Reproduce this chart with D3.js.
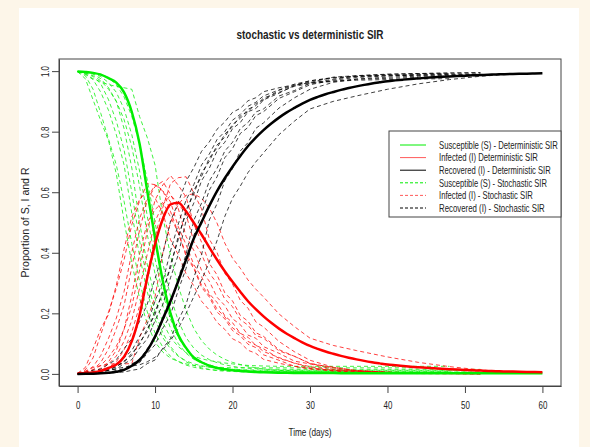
<!DOCTYPE html>
<html>
<head>
<meta charset="utf-8">
<script src="https://cdn.jsdelivr.net/npm/d3@7"></script>
<style>
  body { margin: 0; background: #fdf6e9; }
  svg { display: block; }
  text { font-family: "Liberation Sans", Arial, sans-serif; fill: #222; }
</style>
</head>
<body>
<div id="chart"></div>
<script>
// deterministic SIR, one value per day (0..60)
const days = d3.range(0, 61);
const detS = [0.999, 0.9972, 0.9942, 0.9883, 0.9768, 0.962, 0.93, 0.865, 0.76, 0.603,
  0.448, 0.307, 0.199, 0.128, 0.086, 0.054, 0.0384, 0.0272, 0.0193, 0.015,
  0.0116, 0.0092, 0.0075, 0.0063, 0.0053, 0.0046, 0.0041, 0.0036, 0.0033, 0.003,
  0.0028, 0.0027, 0.0026, 0.0026, 0.0025, 0.0025, 0.0024, 0.0024, 0.0023, 0.0023,
  0.0023, 0.0022, 0.0022, 0.0022, 0.0022, 0.0022, 0.0021, 0.0021, 0.0021, 0.0021,
  0.0021, 0.0021, 0.0021, 0.0021, 0.002, 0.002, 0.002, 0.002, 0.002, 0.002, 0.002];
const detI = [0.001, 0.0026, 0.005, 0.0099, 0.0195, 0.0311, 0.0568, 0.1082, 0.1941, 0.3194,
  0.4286, 0.5115, 0.56, 0.565, 0.5368, 0.499, 0.4604, 0.418, 0.377, 0.339,
  0.304, 0.2711, 0.2399, 0.2136, 0.1898, 0.1686, 0.1495, 0.1327, 0.1181, 0.1042,
  0.0922, 0.0826, 0.074, 0.0665, 0.0595, 0.0535, 0.048, 0.043, 0.0386, 0.0347,
  0.031, 0.0284, 0.026, 0.0238, 0.0218, 0.02, 0.0183, 0.0168, 0.0154, 0.0141,
  0.0129, 0.0118, 0.0108, 0.0099, 0.0091, 0.0083, 0.0076, 0.007, 0.0064, 0.0059, 0.0054];
const detR = [0, 0.0002, 0.0008, 0.0018, 0.0037, 0.0069, 0.0132, 0.0268, 0.0459, 0.0776,
  0.1234, 0.1815, 0.241, 0.307, 0.3772, 0.447, 0.5012, 0.5548, 0.6037, 0.646,
  0.6844, 0.7197, 0.7526, 0.7801, 0.8049, 0.8268, 0.8464, 0.8637, 0.8786, 0.8928,
  0.905, 0.9147, 0.9234, 0.9309, 0.938, 0.944, 0.9496, 0.9546, 0.9591, 0.963,
  0.9667, 0.9694, 0.9718, 0.974, 0.976, 0.9778, 0.9796, 0.9811, 0.9825, 0.9838,
  0.985, 0.9861, 0.9871, 0.988, 0.9889, 0.9897, 0.9904, 0.991, 0.9916, 0.9921, 0.9926];

// stochastic runs, sampled at these times (a run stops when its array ends)
const stochTimes = [0, 1, 2, 3, 4, 5, 6, 7, 8, 9, 10, 11, 12, 13, 14, 15, 16, 17, 18, 19,
  20, 21, 22, 23, 24, 26, 28, 30, 33, 36, 40, 44, 48, 52, 56];

const stochS = [
  [.998,.975,.905,.835,.77,.66,.505,.365,.25,.165,.105,.072,.052,.041,.033,.028,.025,.023,.022,.021,.02,.02,.02,.02,.02,.02,.02,.02,.02,.02,.02,.02],
  [.998,.985,.94,.86,.775,.69,.57,.43,.305,.205,.135,.088,.058,.04,.029,.022,.017,.014,.012,.011,.01,.009,.009,.008,.008,.008,.008,.008,.008,.008,.008,.008,.008],
  [.999,.99,.972,.93,.87,.79,.69,.53,.39,.27,.18,.12,.082,.058,.043,.033,.027,.022,.018,.016,.015,.014,.013,.013,.012,.012,.012,.012,.012,.012,.012,.012,.012,.012],
  [.998,.993,.982,.958,.905,.835,.74,.6,.44,.31,.205,.135,.09,.06,.04,.028,.02,.015,.011,.009,.008,.007,.006,.006,.005,.005,.005,.005,.005,.005,.005,.005,.005,.005],
  [.999,.996,.99,.975,.945,.9,.81,.68,.5,.36,.25,.17,.12,.09,.07,.058,.05,.044,.04,.036,.033,.03,.028,.027,.026,.025,.025,.025,.025,.025,.025,.025,.025],
  [.998,.994,.985,.968,.94,.9,.84,.75,.62,.46,.33,.225,.15,.1,.068,.048,.036,.028,.022,.018,.015,.013,.012,.011,.01,.01,.01,.01,.01,.01,.01,.01,.01,.01],
  [.999,.997,.992,.982,.962,.93,.875,.79,.67,.52,.38,.265,.18,.12,.08,.055,.04,.03,.022,.017,.013,.011,.009,.008,.007,.006,.006,.006,.006,.006,.006,.006,.006,.006],
  [.999,.998,.995,.99,.978,.955,.915,.85,.76,.64,.5,.365,.255,.175,.12,.085,.062,.047,.037,.03,.025,.021,.019,.017,.016,.015,.015,.015,.015,.015,.015,.015,.015,.015],
  [.999,.99,.975,.965,.955,.95,.945,.94,.85,.78,.69,.52,.39,.29,.21,.15,.11,.082,.062,.048,.038,.031,.025,.02,.016,.012,.009,.007,.006,.005,.004,.004,.004,.004,.004]
];
const stochI = [
  [.002,.021,.083,.149,.197,.293,.412,.519,.576,.604,.58,.532,.443,.393,.331,.291,.24,.211,.17,.147,.116,.103,.078,.068,.048,.035,.025,.018,.012,.008,.004,.001],
  [.002,.013,.053,.131,.205,.282,.377,.493,.571,.629,.625,.607,.536,.465,.397,.353,.293,.26,.214,.189,.152,.134,.107,.095,.074,.054,.035,.024,.013,.009,.005,.003,.001],
  [.001,.007,.024,.061,.118,.184,.272,.402,.513,.581,.624,.604,.568,.486,.427,.361,.321,.265,.236,.192,.169,.134,.121,.094,.083,.051,.036,.02,.011,.006,.003,.002,.001,0],
  [.002,.006,.014,.038,.083,.149,.226,.353,.475,.574,.619,.636,.592,.546,.454,.408,.342,.306,.253,.226,.182,.163,.128,.118,.09,.068,.042,.033,.015,.01,.005,.003,.001,0],
  [.001,.003,.005,.019,.04,.078,.147,.259,.396,.5,.543,.566,.518,.466,.389,.348,.286,.254,.204,.182,.143,.126,.098,.087,.063,.045,.025,.016,.009,.005,.003,.001,0],
  [.002,.005,.013,.028,.055,.091,.148,.223,.343,.472,.574,.624,.655,.623,.584,.495,.435,.365,.327,.268,.241,.193,.174,.136,.124,.08,.058,.035,.02,.011,.006,.003,.001,0],
  [.001,.002,.006,.014,.033,.059,.108,.177,.283,.396,.504,.559,.59,.563,.526,.438,.396,.333,.299,.247,.222,.179,.161,.127,.118,.076,.058,.034,.021,.01,.005,.002,.001,0],
  [.001,.002,.004,.008,.02,.04,.079,.138,.224,.326,.454,.55,.629,.648,.651,.597,.545,.445,.401,.332,.297,.243,.217,.172,.155,.107,.073,.045,.022,.011,.005,.002,.001,0],
  [.001,.009,.021,.027,.033,.033,.033,.034,.12,.18,.255,.4,.5,.56,.59,.595,.58,.548,.498,.432,.382,.349,.31,.28,.254,.198,.156,.118,.094,.077,.056,.038,.024,.013,.006]
];
const stochR = [
  [0,.004,.012,.016,.033,.047,.083,.116,.174,.231,.315,.396,.505,.566,.636,.681,.735,.766,.808,.832,.864,.877,.902,.912,.932,.945,.955,.963,.967,.973,.976,.979],
  [0,.002,.007,.009,.02,.028,.053,.077,.124,.166,.24,.305,.406,.495,.574,.625,.69,.726,.774,.8,.838,.857,.884,.897,.918,.938,.957,.968,.979,.983,.987,.989,.991],
  [0,.003,.004,.009,.012,.026,.038,.068,.097,.149,.196,.276,.35,.456,.53,.606,.652,.713,.746,.792,.816,.852,.866,.893,.905,.937,.952,.968,.977,.982,.985,.986,.987,.988],
  [0,.001,.004,.004,.012,.016,.034,.047,.085,.116,.176,.229,.318,.394,.506,.564,.638,.679,.736,.765,.81,.83,.866,.876,.905,.927,.953,.962,.98,.985,.99,.992,.994,.995],
  [0,.001,.005,.006,.015,.022,.043,.061,.104,.14,.207,.264,.362,.444,.541,.594,.664,.702,.756,.782,.824,.844,.874,.886,.911,.93,.95,.959,.966,.97,.972,.974,.975],
  [0,.001,.002,.004,.005,.009,.012,.027,.037,.068,.096,.151,.195,.277,.348,.457,.529,.607,.651,.714,.744,.794,.814,.853,.866,.91,.932,.955,.97,.979,.984,.987,.989,.99],
  [0,.001,.002,.004,.005,.011,.017,.033,.047,.084,.116,.176,.23,.317,.394,.507,.564,.637,.679,.736,.765,.81,.83,.865,.875,.918,.936,.96,.973,.984,.989,.992,.993,.994],
  [0,0,.001,.002,.002,.005,.006,.012,.016,.034,.046,.085,.116,.177,.229,.318,.393,.508,.562,.638,.678,.736,.764,.811,.829,.878,.912,.94,.963,.974,.98,.983,.984,.985],
  [0,.001,.004,.008,.012,.017,.022,.026,.03,.04,.055,.08,.11,.15,.2,.255,.31,.37,.44,.52,.58,.62,.665,.7,.73,.79,.835,.875,.9,.918,.94,.958,.972,.983,.99]
];

const xTicks = [0, 10, 20, 30, 40, 50, 60];
const yTicks = [0, 0.2, 0.4, 0.6, 0.8, 1.0];
const legendLabels = [
  "Susceptible (S) - Deterministic SIR",
  "Infected (I) Deterministic SIR",
  "Recovered (I) - Deterministic SIR",
  "Susceptible (S) - Stochastic SIR",
  "Infected (I) - Stochastic SIR",
  "Recovered (I) - Stochastic SIR"
];
const legendWidths = [119, 99, 112, 108, 94, 106];

const W = 590, H = 447;
const box = { left: 59, right: 561, top: 59, bottom: 386 };

const svg = d3.select("#chart").append("svg")
  .attr("width", W)
  .attr("height", H);

// page background and white panel
svg.append("rect").attr("width", W).attr("height", H).attr("fill", "#fdf6e9");
svg.append("rect").attr("x", 19).attr("y", 8).attr("width", 560).attr("height", H - 8).attr("fill", "#fff");

// R style axes: 4% padding on each side
const x = d3.scaleLinear().domain([-2.4, 62.4]).range([box.left, box.right]);
const y = d3.scaleLinear().domain([-0.04, 1.04]).range([box.bottom, box.top]);

svg.append("clipPath").attr("id", "plotclip")
  .append("rect")
  .attr("x", box.left).attr("y", box.top)
  .attr("width", box.right - box.left).attr("height", box.bottom - box.top);

// squeeze text horizontally (reference glyphs are narrow)
function squeeze(sel, k) {
  sel.each(function () {
    const len = this.getComputedTextLength();
    d3.select(this).attr("textLength", len * k).attr("lengthAdjust", "spacingAndGlyphs");
  });
}

const plot = svg.append("g").attr("clip-path", "url(#plotclip)");

const line = d3.line().x(d => x(d[0])).y(d => y(d[1]));
const smooth = d3.line().x(d => x(d[0])).y(d => y(d[1])).curve(d3.curveMonotoneX);

// stochastic runs (dashed)
const stochGroups = [
  { data: stochS, color: "#00ee00" },
  { data: stochI, color: "#ff0000" },
  { data: stochR, color: "#000000" }
];
stochGroups.forEach(g => {
  g.data.forEach(run => {
    plot.append("path")
      .attr("d", line(run.map((v, i) => [stochTimes[i], v])))
      .attr("fill", "none")
      .attr("stroke", g.color)
      .attr("stroke-opacity", 0.75)
      .attr("stroke-width", 1)
      .attr("stroke-dasharray", "4,3");
  });
});

// deterministic curves (thick solid)
[[detS, "#00ee00"], [detI, "#ff0000"], [detR, "#000000"]].forEach(([vals, col]) => {
  plot.append("path")
    .attr("d", smooth(vals.map((v, i) => [days[i], v])))
    .attr("fill", "none")
    .attr("stroke", col)
    .attr("stroke-width", 2.5);
});

// box
svg.append("rect")
  .attr("x", box.left).attr("y", box.top)
  .attr("width", box.right - box.left).attr("height", box.bottom - box.top)
  .attr("fill", "none").attr("stroke", "#444").attr("stroke-width", 1);

// x axis
const gx = svg.append("g")
  .attr("transform", `translate(0,${box.bottom})`)
  .call(d3.axisBottom(x).tickValues(xTicks).tickSize(7).tickPadding(8).tickSizeOuter(0));
gx.select(".domain").attr("stroke", "#444");
gx.selectAll(".tick line").attr("stroke", "#444");
gx.selectAll(".tick text").attr("font-size", 11).attr("fill", "#222").call(squeeze, 0.72);

// y axis, labels rotated like R's las = 0
const gy = svg.append("g")
  .attr("transform", `translate(${box.left},0)`)
  .call(d3.axisLeft(y).tickValues(yTicks).tickFormat(d3.format(".1f")).tickSize(7).tickSizeOuter(0));
gy.select(".domain").attr("stroke", "#444");
gy.selectAll(".tick line").attr("stroke", "#444");
gy.selectAll(".tick text")
  .attr("font-size", 11).attr("fill", "#222")
  .attr("transform", "rotate(-90)")
  .attr("x", 0).attr("y", -10).attr("dy", 0)
  .attr("text-anchor", "middle")
  .call(squeeze, 0.72);

// titles
svg.append("text")
  .attr("x", (box.left + box.right) / 2).attr("y", 39)
  .attr("text-anchor", "middle").attr("font-size", 13).attr("font-weight", "bold")
  .attr("textLength", 147).attr("lengthAdjust", "spacingAndGlyphs")
  .text("stochastic vs deterministic SIR");

svg.append("text")
  .attr("x", (box.left + box.right) / 2).attr("y", 436)
  .attr("text-anchor", "middle").attr("font-size", 11)
  .attr("textLength", 43).attr("lengthAdjust", "spacingAndGlyphs")
  .text("Time (days)");

svg.append("text")
  .attr("transform", `translate(29,${(box.top + box.bottom) / 2}) rotate(-90)`)
  .attr("text-anchor", "middle").attr("font-size", 11)
  .attr("textLength", 110).attr("lengthAdjust", "spacingAndGlyphs")
  .text("Proportion of S, I and R");

// legend
const legendItems = [
  { color: "#00ee00", dash: null },
  { color: "#ff5a5a", dash: null },
  { color: "#000000", dash: null },
  { color: "#00ee00", dash: "3,2" },
  { color: "#ff5a5a", dash: "3,2" },
  { color: "#000000", dash: "3,2" }
];
const leg = svg.append("g");
leg.append("rect")
  .attr("x", 389).attr("y", 131).attr("width", 172).attr("height", 86)
  .attr("fill", "#fff").attr("stroke", "#444");
legendItems.forEach((it, i) => {
  const cy = 145 + i * 12.6;
  leg.append("line")
    .attr("x1", 400).attr("x2", 426).attr("y1", cy).attr("y2", cy)
    .attr("stroke", it.color).attr("stroke-width", 1)
    .attr("stroke-dasharray", it.dash);
  // narrow glyphs via a horizontal scale so the box stays the real extent
  const t = leg.append("text")
    .attr("x", 0).attr("y", 0)
    .attr("font-size", 10.5)
    .text(legendLabels[i]);
  const k = legendWidths[i] / t.node().getComputedTextLength();
  t.attr("transform", `translate(439,${cy + 3.8}) scale(${k},1)`);
});
</script>
</body>
</html>
